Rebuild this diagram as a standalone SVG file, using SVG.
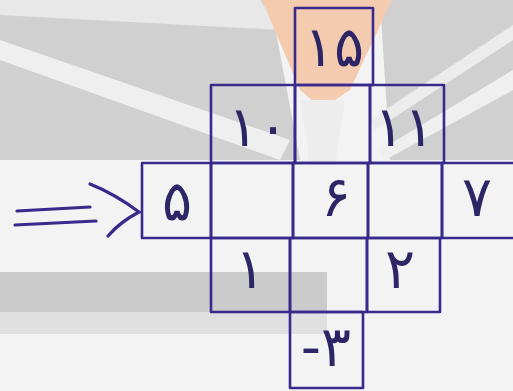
<svg xmlns="http://www.w3.org/2000/svg" width="513" height="391" viewBox="0 0 513 391">
<defs>
<style>
.cell{fill:none;stroke:#372a8c;stroke-width:2.6;stroke-linejoin:round}
.num{font-family:"DejaVu Sans","Noto Sans",sans-serif;font-size:56px;fill:#2c2566;text-anchor:middle;dominant-baseline:central}
.arr{fill:none;stroke:#372a8c;stroke-width:3.2;stroke-linecap:round}
</style>
</defs>
<g id="background">
<rect x="0" y="0" width="513" height="391" fill="#f3f3f3"/>
<polygon points="0,10 270,0 300,160 0,160" fill="#d0d0d0"/>
<polygon points="380,0 513,0 513,160 390,160" fill="#d0d0d0"/>
<polygon points="0,60 0,40 290,140 280,160" fill="#efefef"/>
<polygon points="0,0 260,0 280,30 0,15" fill="#e8e8e8"/>
<polygon points="513,90 513,70 380,150 385,160" fill="#efefef"/>
<polygon points="513,40 513,25 370,120 375,130" fill="#ececec"/>
<polygon points="262,0 392,0 350,90 335,100 312,100 300,90" fill="#f5cbb0"/>
<polygon points="300,100 345,100 335,165 310,165" fill="#ededed"/>
<rect x="0" y="272" width="327" height="40" fill="#cbcbcb"/>
<rect x="0" y="312" width="327" height="22" fill="#e0e0e0"/>
</g>
<g id="connectors">
<path class="arr" d="M17,211 L90,207"/>
<path class="arr" d="M15,225 L96,221"/>
<path class="arr" d="M90,184 Q115,194 139,212 Q120,222 108,236"/>
</g>
<g id="n15"><rect class="cell" x="295" y="8" width="78" height="77"/><text class="num" x="334" y="46">۱۵</text></g>
<g id="n10"><rect class="cell" x="211" y="85" width="84" height="78"/><text class="num" x="258" y="126">۱۰</text></g>
<g id="n_top_mid"><rect class="cell" x="295" y="85" width="75" height="78"/></g>
<g id="n11"><rect class="cell" x="370" y="85" width="74" height="78"/><text class="num" x="404" y="126">۱۱</text></g>
<g id="n5"><rect class="cell" x="142" y="163" width="69" height="75"/><text class="num" x="177" y="200">۵</text></g>
<g id="n_mid_left"><rect class="cell" x="211" y="163" width="82" height="75"/></g>
<g id="n6"><rect class="cell" x="293" y="163" width="75" height="75"/><text class="num" x="336" y="196">۶</text></g>
<g id="n_mid_right"><rect class="cell" x="368" y="163" width="74" height="75"/></g>
<g id="n7"><rect class="cell" x="442" y="163" width="80" height="75"/><text class="num" x="477" y="196">۷</text></g>
<g id="n1"><rect class="cell" x="211" y="238" width="79" height="74"/><text class="num" x="250" y="268">۱</text></g>
<g id="n_low_mid"><rect class="cell" x="290" y="238" width="77" height="74"/></g>
<g id="n2"><rect class="cell" x="367" y="238" width="73" height="74"/><text class="num" x="400" y="268">۲</text></g>
<g id="n_minus3"><rect class="cell" x="290" y="312" width="73" height="76"/><text class="num" x="326" y="346" direction="ltr">-۳</text></g>
</svg>
